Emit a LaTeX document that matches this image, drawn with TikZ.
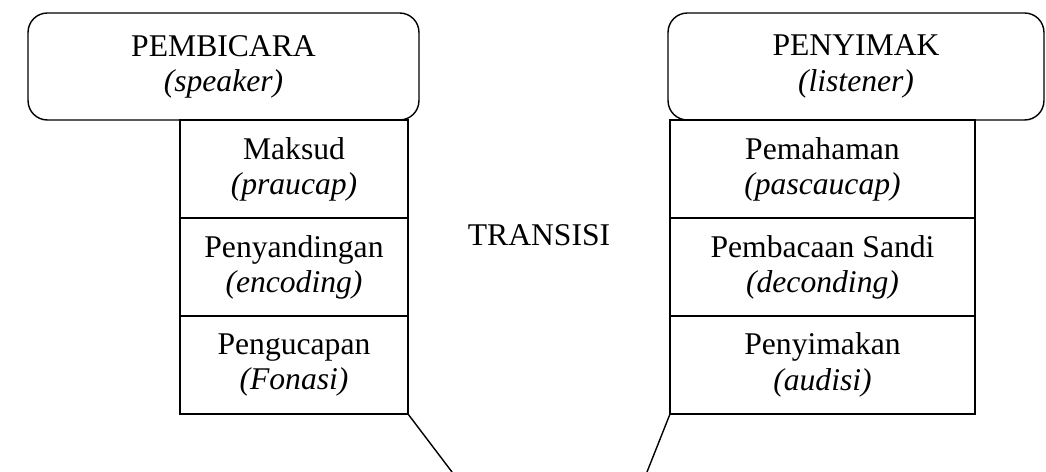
\documentclass[tikz,border=0pt]{standalone}
\usepackage{fontspec}
\setmainfont{Liberation Serif}
\usetikzlibrary{positioning}

\begin{document}
\begin{tikzpicture}[x=0.02cm, y=-0.02cm,
    party/.style={draw, rounded corners=11pt, thick, align=center,
                  minimum height=2.14cm, inner sep=2pt,
                  font=\fontsize{18}{20}\selectfont},
    layer/.style={draw, thick, align=center, outer sep=0pt,
                  minimum height=1.96cm, inner sep=2pt,
                  font=\fontsize{18}{20}\selectfont},
    lwide/.style={layer, minimum width=4.56cm},
    rwide/.style={layer, minimum width=6.1cm},
]
\useasboundingbox (0,0) rectangle (1046,472);

% Speaker side
\node[party, minimum width=7.82cm] (speaker) at (223.5,66.5)
  {PEMBICARA\\\textit{(speaker)}};
\node[lwide] (maksud) at (294,169) {Maksud\\\textit{(praucap)}};
\node[lwide, below=0pt of maksud] (encode) {Penyandingan\\\textit{(encoding)}};
\node[lwide, below=0pt of encode] (fonasi) {Pengucapan\\\textit{(Fonasi)}};

% Listener side
\node[party, minimum width=7.52cm] (listener) at (856,66.5)
  {PENYIMAK\\\textit{(listener)}};
\node[rwide] (paham) at (822.5,169) {Pemahaman\\\textit{(pascaucap)}};
\node[rwide, below=0pt of paham] (decode) {Pembacaan Sandi\\\textit{(deconding)}};
\node[rwide, below=0pt of decode] (audisi) {Penyimakan\\\textit{(audisi)}};

% Transition
\node[font=\fontsize{18}{20}\selectfont] (trans) at (539,235) {TRANSISI};
\coordinate (vl) at (452,472);
\coordinate (vr) at (647,472);
\draw[thick] (fonasi.south east) -- (vl);
\draw[thick] (audisi.south west) -- (vr);

\end{tikzpicture}
\end{document}
